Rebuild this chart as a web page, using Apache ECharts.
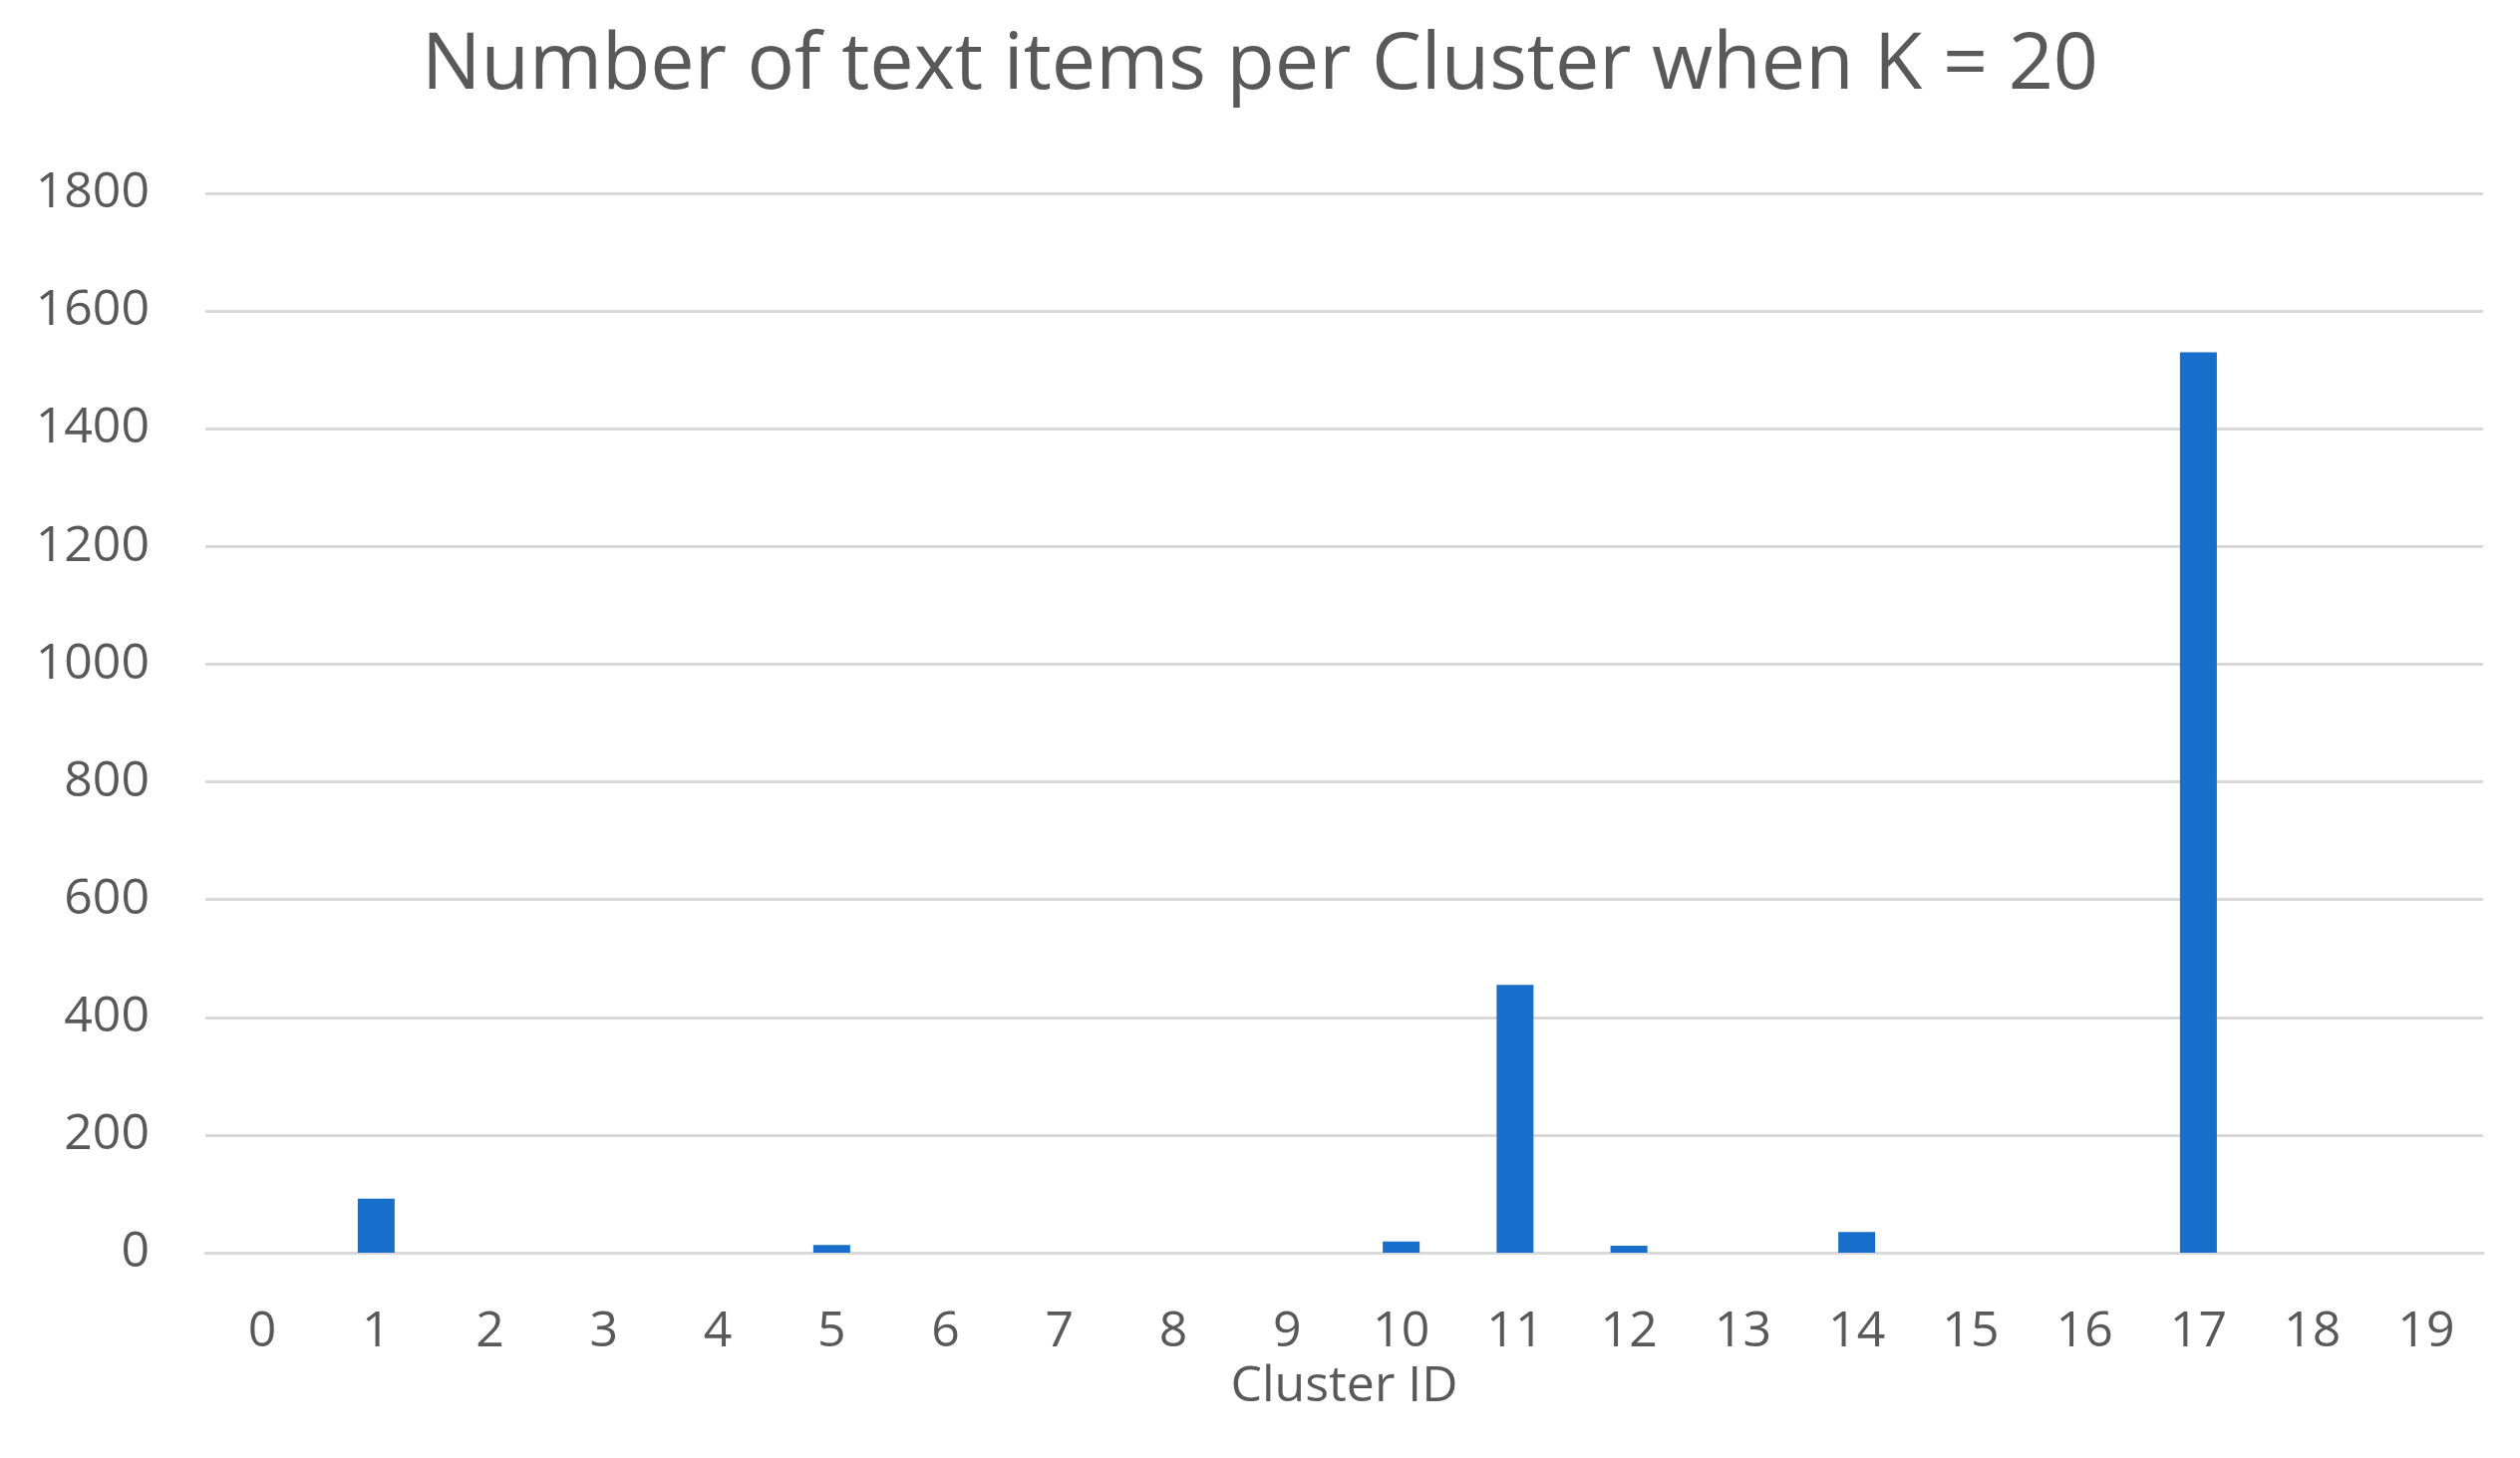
<!DOCTYPE html>
<html>
<head>
<meta charset="utf-8">
<script src="https://cdn.jsdelivr.net/npm/echarts@6/dist/echarts.min.js"></script>
<style>html,body{margin:0;padding:0;background:#fff;}#chart{width:2528px;height:1463px;}</style>
</head>
<body>
<div id="chart"></div>
<script>
const titleText = 'Number of text items per Cluster when K = 20';
const xAxisName = 'Cluster ID';
const categories = ['0','1','2','3','4','5','6','7','8','9','10','11','12','13','14','15','16','17','18','19'];
const counts = [0, 92, 0, 0, 0, 13, 0, 0, 0, 0, 19, 455, 12, 0, 35, 0, 0, 1530, 0, 0];
const yTicks = { min: 0, max: 1800, interval: 200 };

const chart = echarts.init(document.getElementById('chart'));
const font = '"Open Sans", "Noto Sans", sans-serif';
chart.setOption({
  animation: false,
  backgroundColor: '#ffffff',
  title: {
    text: titleText,
    left: 'center',
    top: 22,
    textStyle: { fontFamily: font, fontSize: 79, fontWeight: 'normal', color: '#595959' }
  },
  grid: { left: 206, right: 37, top: 194, bottom: 206, containLabel: false },
  xAxis: {
    type: 'category',
    data: categories,
    name: xAxisName,
    nameLocation: 'middle',
    nameGap: 109,
    nameTextStyle: { fontFamily: font, fontSize: 50, color: '#595959' },
    axisTick: { show: false },
    axisLine: { lineStyle: { color: '#d9d9d9', width: 3 } },
    axisLabel: { fontFamily: font, fontSize: 50, color: '#595959', margin: 55 }
  },
  yAxis: {
    type: 'value',
    min: yTicks.min, max: yTicks.max, interval: yTicks.interval,
    axisLine: { show: false },
    axisTick: { show: false },
    splitLine: { lineStyle: { color: '#d9d9d9', width: 3 } },
    axisLabel: { fontFamily: font, fontSize: 50, color: '#595959', margin: 56, formatter: function (v) { return String(v); } }
  },
  series: [{
    type: 'bar',
    data: counts,
    barWidth: 37,
    itemStyle: { color: '#176fcb' }
  }]
});
</script>
</body>
</html>
